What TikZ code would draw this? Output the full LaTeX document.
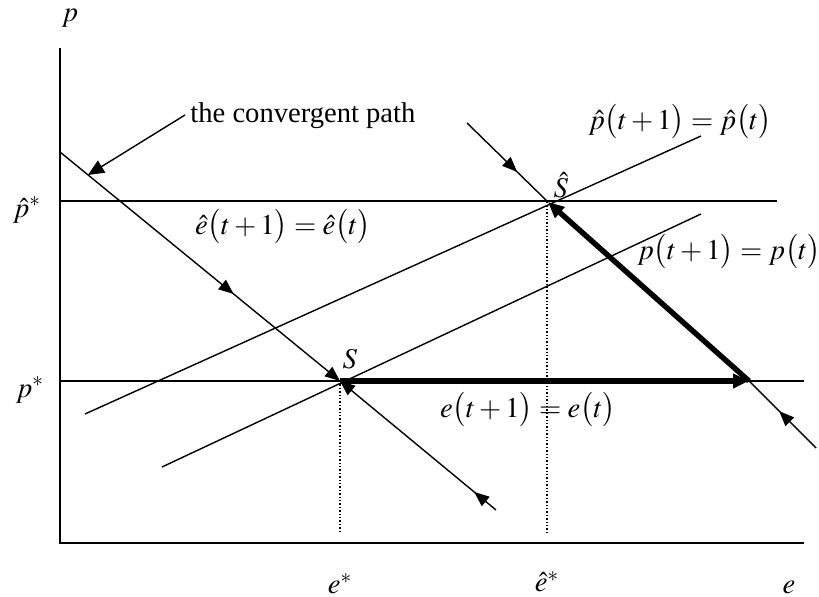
\documentclass[tikz,border=0pt]{standalone}
\usepackage{mathptmx}
\usepackage{fontspec}
\setmainfont{Liberation Serif}
\usetikzlibrary{arrows.meta,decorations.markings}
\begin{document}
\begin{tikzpicture}[x=0.5pt,y=-0.5pt,
  font=\fontsize{14.3}{17}\selectfont,
  thinline/.style={line width=0.7pt},
  thickline/.style={line width=2.7pt},
  tipped/.style={-{Triangle[length=7.5pt,width=6pt]}},
  bigtip/.style={-{Triangle[length=8pt,width=7pt]}},
  midarrow/.style={postaction={decorate},decoration={markings,mark=at position #1 with {\arrow{Triangle[length=7.5pt,width=6pt]}}}},
  lbl/.style={inner sep=0pt}]
\useasboundingbox (0,0) rectangle (819,597);
% key points
\coordinate (O) at (60,543);
\coordinate (Ytop) at (60,48);
\coordinate (Xend) at (804,543);
\coordinate (S) at (340,381);
\coordinate (Sh) at (548,202);
\coordinate (C0) at (60,152);
\coordinate (R) at (749,381);
\coordinate (Rend) at (816,448);
\coordinate (U) at (467,123);
\coordinate (L) at (496,510);
\coordinate (PhL) at (60,201);
\coordinate (PhR) at (777,201);
\coordinate (PL) at (60,381);
\coordinate (PR) at (804,381);
\coordinate (A1) at (85,414);
\coordinate (A2) at (701,136);
\coordinate (B1) at (162,467);
\coordinate (B2) at (701,214);
\coordinate (D1) at (340,532);
\coordinate (D2a) at (547,202);
\coordinate (D2) at (547,532);
\coordinate (Lt) at (185,115);
\coordinate (Lh) at (88,175);
% axes
\draw[thinline] (Ytop) -- (O) -- (Xend);
% horizontal lines
\draw[thinline] (PhL) -- (PhR);
\draw[thinline] (PL) -- (PR);
% upward sloping lines
\draw[thinline] (A1) -- (A2);
\draw[thinline] (B1) -- (B2);
% dotted lines
\draw[thinline,densely dotted] (S) -- (D1);
\draw[thinline,densely dotted] (D2a) -- (D2);
% saddle paths
\draw[thinline,tipped,midarrow=0.62] (C0) -- (S);
\draw[thinline,tipped,midarrow=0.14] (L) -- (S);
\draw[thinline,midarrow=0.62] (U) -- (Sh);
\draw[thinline,midarrow=0.55] (Rend) -- (R);
% thick adjustment path
\draw[thickline,bigtip] (S) -- (R);
\draw[thickline,bigtip] (R) -- (Sh);
% label arrow
\draw[thinline,bigtip] (Lt) -- (Lh);
% labels
\node[lbl,anchor=base west] (conv) at (190,123) {the convergent path};
\node[lbl] (lp) at (70,18) {$p$};
\node[lbl] (lphs) at (27,210) {$\hat{p}^{*}$};
\node[lbl] (lps) at (30,390) {$p^{*}$};
\node[lbl] (les) at (340,584) {$e^{*}$};
\node[lbl] (lehs) at (547,582) {$\hat{e}^{*}$};
\node[lbl] (le) at (789,587) {$e$};
\node[lbl] (lS) at (350,359) {$S$};
\node[lbl] (lSh) at (561,185) {$\hat{S}$};
\node[lbl] (leh) at (283,227) {$\hat{e}\bigl(t+1\bigr)=\hat{e}\bigl(t\bigr)$};
\node[lbl] (lph) at (680,122) {$\hat{p}\bigl(t+1\bigr)=\hat{p}\bigl(t\bigr)$};
\node[lbl] (lpp) at (729,252) {$p\bigl(t+1\bigr)=p\bigl(t\bigr)$};
\node[lbl] (lee) at (528,410) {$e\bigl(t+1\bigr)=e\bigl(t\bigr)$};
\end{tikzpicture}
\end{document}
